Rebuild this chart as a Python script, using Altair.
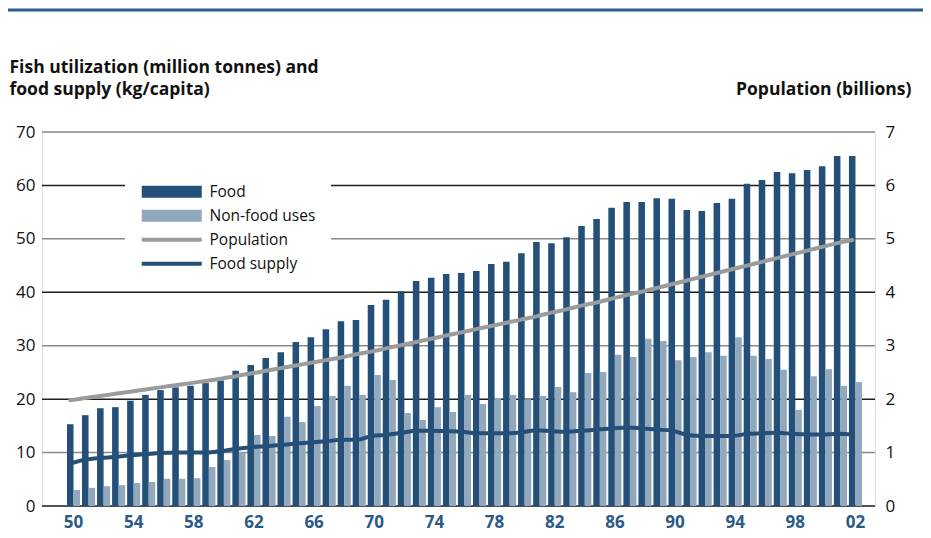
import altair as alt
import pandas as pd

years = list(range(1950, 2003))

food = [15.3, 17.0, 18.3, 18.5, 19.7, 20.8, 21.7, 22.2, 22.5, 23.0,
        23.5, 25.3, 26.4, 27.7, 28.8, 30.7, 31.6, 33.1, 34.6, 34.8,
        37.6, 38.6, 40.2, 42.1, 42.7, 43.4, 43.6, 44.0, 45.3, 45.7,
        47.3, 49.4, 49.2, 50.3, 52.4, 53.7, 55.8, 56.9, 56.9, 57.6,
        57.5, 55.4, 55.2, 56.7, 57.5, 60.3, 61.0, 62.5, 62.3, 62.9,
        63.6, 65.5, 65.5]

nonfood = [3.0, 3.4, 3.7, 3.9, 4.3, 4.5, 5.1, 5.1, 5.2, 7.3,
           8.6, 10.1, 13.3, 13.1, 16.7, 15.7, 18.7, 20.6, 22.5, 20.8,
           24.5, 23.6, 17.4, 16.1, 18.5, 17.6, 20.8, 19.1, 20.2, 20.8,
           20.0, 20.6, 22.3, 21.3, 24.9, 25.1, 28.3, 27.9, 31.3, 30.9,
           27.3, 27.9, 28.8, 28.1, 31.6, 28.1, 27.5, 25.5, 18.0, 24.3,
           25.6, 22.5, 23.2]

food_supply = [8.0, 8.7, 9.0, 9.2, 9.5, 9.7, 9.9, 10.0, 10.0, 10.0,
               10.3, 10.7, 11.0, 11.2, 11.4, 11.7, 11.9, 12.1, 12.4, 12.4,
               13.1, 13.3, 13.7, 14.1, 14.1, 14.0, 13.9, 13.6, 13.6, 13.6,
               13.8, 14.2, 14.0, 13.9, 14.1, 14.3, 14.5, 14.7, 14.5, 14.3,
               14.1, 13.3, 13.1, 13.1, 13.1, 13.5, 13.6, 13.7, 13.5, 13.4,
               13.4, 13.5, 13.4]

population = [1.98, 2.02, 2.06, 2.10, 2.14, 2.18, 2.22, 2.26, 2.30, 2.34,
              2.38, 2.43, 2.48, 2.53, 2.58, 2.63, 2.68, 2.73, 2.78, 2.84,
              2.89, 2.95, 3.01, 3.07, 3.13, 3.19, 3.25, 3.31, 3.37, 3.43,
              3.49, 3.55, 3.62, 3.68, 3.75, 3.81, 3.88, 3.95, 4.01, 4.08,
              4.15, 4.22, 4.29, 4.36, 4.43, 4.50, 4.57, 4.64, 4.71, 4.78,
              4.85, 4.92, 4.98]

series_names = ["Food", "Non-food uses", "Population", "Food supply"]
series_colors = ["#234f78", "#91a8bd", "#9b9b9b", "#234f78"]

left_ticks = [0, 10, 20, 30, 40, 50, 60, 70]
grid_shade = ["dark", "light", "dark", "light", "dark", "light", "dark", "light"]
right_ticks = [0, 1, 2, 3, 4, 5, 6, 7]
x_label_years = list(range(1950, 2003, 4))

FONT = "Open Sans"

bars_df = pd.DataFrame({
    "year": years * 2,
    "series": ["Food"] * len(years) + ["Non-food uses"] * len(years),
    "value": food + nonfood,
})
supply_df = pd.DataFrame({"year": years, "value": food_supply,
                          "series": ["Food supply"] * len(years)})
pop_df = pd.DataFrame({"year": years, "pop": population,
                       "series": ["Population"] * len(years)})
grid_df = pd.DataFrame({"value": left_ticks, "shade": grid_shade})
top_df = pd.DataFrame({"k": [1]})

xscale = alt.Scale(paddingInner=0.13, paddingOuter=0.065, range=[24, 821])
x_axis = alt.Axis(values=x_label_years,
                  labelExpr="substring(toString(datum.value), 2)",
                  title=None, ticks=False, domain=False, grid=False,
                  labelAngle=0, labelFont=FONT, labelFontSize=17,
                  labelFontWeight="bold", labelColor="#2b5a86", labelPadding=8)
x_enc = alt.X("year:O", scale=xscale, axis=x_axis)

y_scale = alt.Scale(domain=[0, 70], nice=False)
y_axis = alt.Axis(values=left_ticks, grid=False, ticks=False, domain=False,
                  labelFont=FONT, labelFontSize=17, labelColor="#111111",
                  labelPadding=7,
                  title=["Fish utilization (million tonnes) and", "food supply (kg/capita)"],
                  titleAngle=0, titleAlign="left", titleBaseline="top",
                  titleX=-33, titleY=-74, titleFont=FONT, titleFontSize=17.5,
                  titleFontWeight="bold", titleColor="#111111", titleLineHeight=22)

sym_shape = ("datum.value == 'Population' || datum.value == 'Food supply' "
             "? 'M-5,-0.35H5V0.35H-5Z' : 'M-5,-1H5V1H-5Z'")
legend = alt.Legend(
    orient="none", legendX=83, legendY=37, title=None, fillColor="white",
    padding=15, symbolSize=144, symbolOffset=24, labelFont=FONT, labelFontSize=15.5,
    labelColor="#111111", labelOffset=30, rowPadding=7,
    symbolType={"expr": sym_shape},
    symbolFillColor={"expr": "scale('color', datum.value)"},
    symbolStrokeWidth=0, symbolOpacity=1,
)
color_enc = alt.Color("series:N",
                      scale=alt.Scale(domain=series_names, range=series_colors),
                      legend=legend)

grid = alt.Chart(grid_df).mark_rule(strokeWidth=1.5).encode(
    y=alt.Y("value:Q", scale=y_scale, axis=y_axis),
    stroke=alt.Stroke("shade:N", scale=alt.Scale(domain=["dark", "light"],
                                                  range=["#1e1e1e", "#8a8a8a"]),
                      legend=None),
)

top_rule = alt.Chart(top_df).mark_rule(strokeWidth=3, color="#2c5b87", clip=False).encode(
    x=alt.value(-36), x2=alt.value(885), y=alt.value(-122)
)

bars = alt.Chart(bars_df).mark_bar().encode(
    x=x_enc,
    xOffset=alt.XOffset("series:N", sort=["Food", "Non-food uses"],
                        scale=alt.Scale(paddingInner=0, paddingOuter=0)),
    y=alt.Y("value:Q", scale=y_scale, axis=y_axis),
    color=color_enc,
)

supply = alt.Chart(supply_df).mark_line(strokeWidth=4, interpolate="monotone").encode(
    x=alt.X("year:O", scale=xscale, axis=x_axis, bandPosition=0.3),
    y=alt.Y("value:Q", scale=y_scale, axis=y_axis),
    color=color_enc,
)

pop = alt.Chart(pop_df).mark_line(strokeWidth=4, interpolate="monotone", strokeCap="round").encode(
    x=alt.X("year:O", scale=xscale, axis=x_axis, bandPosition=0.25),
    y=alt.Y("pop:Q", scale=alt.Scale(domain=[0, 7], nice=False),
            axis=alt.Axis(orient="right", values=right_ticks, grid=False, ticks=False,
                          domain=False, labelFont=FONT, labelFontSize=17,
                          labelColor="#111111", labelPadding=10,
                          title="Population (billions)", titleAngle=0,
                          titleAlign="right", titleBaseline="top",
                          titleX=36, titleY=-52, titleFont=FONT, titleFontSize=17.5,
                          titleFontWeight="bold", titleColor="#111111")),
    color=color_enc,
)

left = alt.layer(grid, top_rule, bars, supply)
chart = alt.layer(left, pop).resolve_scale(y="independent").properties(
    width=833, height=374,
    autosize=alt.AutoSizeParams(type="none"),
    padding={"left": 34, "top": 124, "right": 48, "bottom": 28},
).configure_view(stroke=None).configure(font=FONT)

chart.save("out.html", embed_options={"renderer": "svg", "actions": False})
